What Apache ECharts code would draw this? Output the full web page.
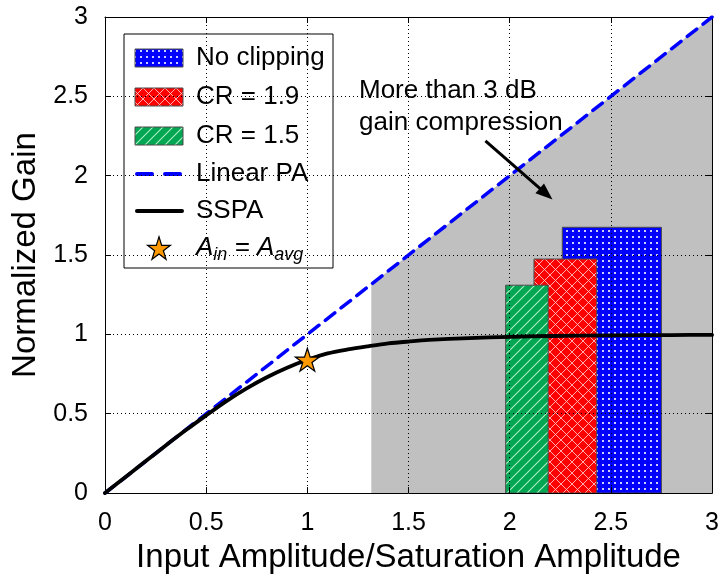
<!DOCTYPE html>
<html>
<head>
<meta charset="utf-8">
<script src="https://cdn.jsdelivr.net/npm/echarts@6/dist/echarts.min.js"></script>
<style>
  html, body { margin: 0; padding: 0; background: #fff; }
  #chart { width: 722px; height: 579px; }
</style>
</head>
<body>
<div id="chart"></div>
<script>
// Axis ticks shared by both axes
const axisTicks = [0, 0.5, 1, 1.5, 2, 2.5, 3];

// SSPA normalized gain curve
const inputAmp = [0, 0.1, 0.2, 0.3, 0.4, 0.5, 0.6, 0.7, 0.8, 0.9, 1.0, 1.1, 1.2, 1.3, 1.4, 1.5, 1.6, 1.8, 2.0, 2.2, 2.5, 2.8, 3.0];
const sspaGain = [0, 0.1, 0.2, 0.3, 0.397, 0.49, 0.58, 0.66, 0.73, 0.79, 0.84, 0.88, 0.905, 0.925, 0.943, 0.955, 0.965, 0.977, 0.985, 0.99, 0.994, 0.996, 0.997];

// Linear PA reference line
const linearX = [0, 3];
const linearGain = [0, 3];

// Region with more than 3 dB gain compression (bounded above by the linear PA line)
const compressionX = [1.316, 3];

// Amplitude distribution blocks: start, end, height
const barNames = ['No clipping', 'CR = 1.9', 'CR = 1.5'];
const barStart = [2.26, 2.12, 1.98];
const barEnd = [2.75, 2.43, 2.19];
const barHeight = [1.675, 1.475, 1.31];

// Average input amplitude operating point
const avgPoint = [1, 0.84];

// Annotation arrow (tail, head)
const arrowTail = [1.88, 2.22];
const arrowHead = [2.18, 1.885];

const FONT = "'Liberation Sans', Arial, Helvetica, sans-serif";

function makePattern(w, h, draw) {
  const c = document.createElement('canvas');
  c.width = w; c.height = h;
  const ctx = c.getContext('2d');
  draw(ctx, w, h);
  return { image: c, repeat: 'repeat' };
}

const bluePattern = makePattern(6, 6, (ctx, w, h) => {
  ctx.fillStyle = '#0000ff';
  ctx.fillRect(0, 0, w, h);
  ctx.fillStyle = 'rgba(255,255,255,0.8)';
  ctx.fillRect(2, 2, 2, 2);
});

const redPattern = makePattern(11, 11, (ctx, w, h) => {
  ctx.fillStyle = '#ff0000';
  ctx.fillRect(0, 0, w, h);
  ctx.strokeStyle = 'rgba(255,200,200,0.85)';
  ctx.lineWidth = 1;
  ctx.beginPath();
  ctx.moveTo(0, 0); ctx.lineTo(w, h);
  ctx.moveTo(w, 0); ctx.lineTo(0, h);
  ctx.stroke();
});

const greenPattern = makePattern(10, 10, (ctx, w, h) => {
  ctx.fillStyle = '#00a651';
  ctx.fillRect(0, 0, w, h);
  ctx.strokeStyle = 'rgba(215,255,225,0.8)';
  ctx.lineWidth = 1.1;
  ctx.beginPath();
  ctx.moveTo(-1, h + 1); ctx.lineTo(w + 1, -1);
  ctx.moveTo(-1, 1); ctx.lineTo(1, -1);
  ctx.moveTo(w - 1, h + 1); ctx.lineTo(w + 1, h - 1);
  ctx.stroke();
});

const barPatterns = [bluePattern, redPattern, greenPattern];

// Five-point star outline on a 100-unit box
const starOutline = [[50, 0], [61.23, 34.55], [97.55, 34.55], [68.16, 55.9], [79.39, 90.45],
  [50, 69.1], [20.61, 90.45], [31.84, 55.9], [2.45, 34.55], [38.77, 34.55]];
const STAR = 'path://M' + starOutline.map(p => p[0] + ' ' + p[1]).join(' L') + ' Z';

const chart = echarts.init(document.getElementById('chart'), null, { renderer: 'canvas' });

const tickMin = axisTicks[0];
const tickMax = axisTicks[axisTicks.length - 1];
const tickStep = axisTicks[1] - axisTicks[0];

function mainAxis(pos, name, nameGap, labelMargin) {
  return {
    type: 'value', position: pos, min: tickMin, max: tickMax, interval: tickStep, z: 1,
    name: name, nameLocation: 'middle', nameGap: nameGap,
    nameTextStyle: { fontSize: 33, color: '#000', fontFamily: FONT },
    axisLine: { show: true, onZero: false, lineStyle: { color: '#000', width: 1 } },
    axisTick: { show: true, inside: true, length: 6, lineStyle: { color: '#000', width: 1 } },
    axisLabel: { show: true, color: '#000', fontSize: 25, fontFamily: FONT, margin: labelMargin },
    splitLine: { show: true, lineStyle: { color: '#000', width: 1, type: [1, 3] } }
  };
}
function mirrorAxis(pos) {
  return {
    type: 'value', position: pos, min: tickMin, max: tickMax, interval: tickStep, z: 1,
    axisLine: { show: true, onZero: false, lineStyle: { color: '#000', width: 1 } },
    axisTick: { show: true, inside: true, length: 6, lineStyle: { color: '#000', width: 1 } },
    axisLabel: { show: false },
    splitLine: { show: false }
  };
}

const xAxisMain = mainAxis('bottom', 'Input Amplitude/Saturation Amplitude', 43, 18);
const yAxisMain = mainAxis('left', 'Normalized Gain', 62, 17);

const legendX = 124, legendY = 34, legendW = 209, legendH = 234;
const rowY = [58, 97, 136, 174, 211, 248];
const patchX = 135, patchW = 48, patchH = 18, textX = 196;
const LEGEND_FONT = '26px ' + FONT;

const legendChildren = [
  { type: 'rect', shape: { x: legendX, y: legendY, width: legendW, height: legendH },
    style: { fill: '#fff', stroke: '#000', lineWidth: 1 } }
];
barNames.forEach((nm, i) => {
  legendChildren.push({ type: 'rect', shape: { x: patchX, y: rowY[i] - patchH / 2, width: patchW, height: patchH },
    style: { fill: barPatterns[i], stroke: '#4d4d4d', lineWidth: 1 } });
  legendChildren.push({ type: 'text', style: { text: nm, x: textX, y: rowY[i], fill: '#000',
    font: LEGEND_FONT, verticalAlign: 'middle', align: 'left' } });
});
legendChildren.push({ type: 'line', shape: { x1: patchX + 2, y1: rowY[3], x2: patchX + patchW - 1, y2: rowY[3] },
  style: { stroke: '#0000ff', lineWidth: 4, lineDash: [15, 13], lineCap: 'round' } });
legendChildren.push({ type: 'text', style: { text: 'Linear PA', x: textX, y: rowY[3], fill: '#000',
  font: LEGEND_FONT, verticalAlign: 'middle', align: 'left' } });
legendChildren.push({ type: 'line', shape: { x1: patchX + 2, y1: rowY[4], x2: patchX + patchW - 1, y2: rowY[4] },
  style: { stroke: '#000', lineWidth: 4, lineCap: 'round' } });
legendChildren.push({ type: 'text', style: { text: 'SSPA', x: textX, y: rowY[4], fill: '#000',
  font: LEGEND_FONT, verticalAlign: 'middle', align: 'left' } });
const starCx = patchX + patchW / 2, starCy = rowY[5];
legendChildren.push({ type: 'polygon',
  shape: { points: starOutline.map(p => [starCx + (p[0] - 50) * 0.24, starCy + (p[1] - 45.2) * 0.25]) },
  style: { fill: '#ff9900', stroke: '#000', lineWidth: 1.2 } });
legendChildren.push({ type: 'text', style: {
  text: '{m|A}{s|in}{m| = A}{s|avg}', x: textX, y: rowY[5], verticalAlign: 'middle', align: 'left',
  rich: {
    m: { fontSize: 26, fontStyle: 'italic', fontFamily: FONT, fill: '#000', lineHeight: 32 },
    s: { fontSize: 18, fontStyle: 'italic', fontFamily: FONT, fill: '#000', lineHeight: 18, verticalAlign: 'bottom' }
  } } });

const option = {
  animation: false,
  backgroundColor: '#fff',
  grid: { left: 105, top: 17, width: 609, height: 480, containLabel: false },
  xAxis: [xAxisMain, mirrorAxis('top')],
  yAxis: [yAxisMain, mirrorAxis('right')],
  series: [
    {
      name: 'compression region', type: 'line', z: 0, silent: true,
      data: compressionX.map(x => [x, x]),
      symbol: 'none', lineStyle: { width: 0 },
      areaStyle: { color: '#c0c0c0', opacity: 1 }
    },
    {
      name: 'distribution', type: 'custom', z: 0, silent: true,
      data: barNames.map((n, i) => [barStart[i], barEnd[i], barHeight[i]]),
      encode: { x: [0, 1], y: 2 },
      renderItem: function (params, api) {
        const p0 = api.coord([api.value(0), 0]);
        const p1 = api.coord([api.value(1), api.value(2)]);
        return {
          type: 'rect',
          shape: { x: p0[0], y: p1[1], width: p1[0] - p0[0], height: p0[1] - p1[1] },
          style: { fill: barPatterns[params.dataIndex], stroke: '#4d4d4d', lineWidth: 1 }
        };
      }
    },
    {
      name: 'Linear PA', type: 'line', z: 3, silent: true,
      data: linearX.map((x, i) => [x, linearGain[i]]),
      symbol: 'none',
      lineStyle: { color: '#0000ff', width: 3.5, type: [12, 8], cap: 'round' }
    },
    {
      name: 'SSPA', type: 'line', z: 4, silent: true, smooth: 0.3,
      data: inputAmp.map((x, i) => [x, sspaGain[i]]),
      symbol: 'none',
      lineStyle: { color: '#000', width: 3.8, cap: 'round' }
    },
    {
      name: 'operating point', type: 'scatter', z: 5, silent: true,
      data: [avgPoint],
      symbol: STAR, symbolSize: [24, 23],
      itemStyle: { color: '#ff9900', borderColor: '#000', borderWidth: 1.2, opacity: 1 }
    },
    {
      name: 'annotation', type: 'line', z: 5, silent: true, data: [],
      markLine: {
        silent: true, animation: false,
        symbol: ['none', 'triangle'], symbolSize: [13, 17],
        label: { show: false },
        lineStyle: { color: '#000', width: 3, type: 'solid' },
        data: [[{ coord: arrowTail }, { coord: arrowHead }]]
      }
    }
  ],
  graphic: [
    { type: 'group', z: 20, children: legendChildren },
    { type: 'text', z: 20, style: {
        text: 'More than 3 dB\ngain compression', x: 359, y: 75, fill: '#000',
        font: '26px ' + FONT, lineHeight: 32, verticalAlign: 'top', align: 'left' } }
  ]
};

chart.setOption(option);
</script>
</body>
</html>
